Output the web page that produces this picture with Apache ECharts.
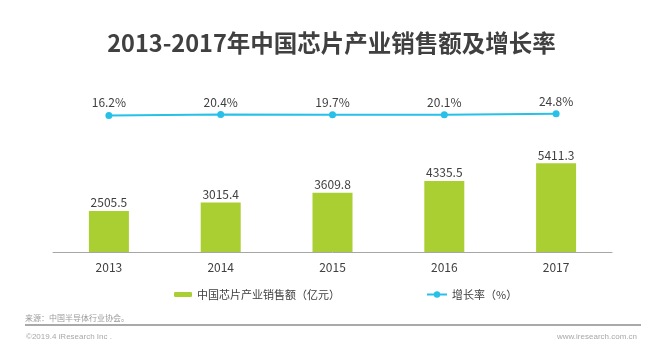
<!DOCTYPE html>
<html>
<head>
<meta charset="utf-8">
<script src="https://cdn.jsdelivr.net/npm/echarts@6/dist/echarts.min.js"></script>
<style>
html,body{margin:0;padding:0;background:#fff;}
#chart{width:663px;height:357px;}
</style>
</head>
<body>
<div id="chart"></div>
<script>
const titleText = '2013-2017年中国芯片产业销售额及增长率';
const categories = ['2013', '2014', '2015', '2016', '2017'];
const salesValues = [2505.5, 3015.4, 3609.8, 4335.5, 5411.3];
const growthValues = [16.2, 20.4, 19.7, 20.1, 24.8];
const barName = '中国芯片产业销售额（亿元）';
const lineName = '增长率（%）';
const sourceText = '来源：中国半导体行业协会。';
const copyrightText = '©2019.4 iResearch Inc .';
const siteText = 'www.iresearch.com.cn';

const cjk = "'Microsoft YaHei','Noto Sans CJK SC',sans-serif";
const chart = echarts.init(document.getElementById('chart'), null, {renderer: 'canvas'});
chart.setOption({
  backgroundColor: '#ffffff',
  animation: false,
  title: {
    text: titleText,
    left: 'center',
    top: 26,
    textStyle: {fontSize: 23.5, fontWeight: 'bold', color: '#404040', fontFamily: cjk}
  },
  legend: [
    {
      data: [barName],
      left: 169, top: 284,
      itemWidth: 18, itemHeight: 5,
      textStyle: {fontSize: 11, color: '#404040', fontFamily: cjk}
    },
    {
      data: [lineName],
      left: 421, top: 284,
      itemWidth: 20, itemHeight: 8,
      textStyle: {fontSize: 11, color: '#404040', fontFamily: cjk}
    }
  ],
  grid: {left: 53, right: 51, top: 88, bottom: 105},
  xAxis: {
    type: 'category',
    data: categories,
    axisLine: {lineStyle: {color: '#a6a6a6', width: 1}},
    axisTick: {show: false},
    axisLabel: {margin: 9, fontSize: 12, color: '#404040', fontFamily: cjk}
  },
  yAxis: [
    {type: 'value', min: 0, max: 10000, show: false},
    {type: 'value', min: -675, max: 155, show: false}
  ],
  series: [
    {
      name: barName,
      type: 'bar',
      data: salesValues,
      barWidth: 40,
      itemStyle: {color: '#AACF32'},
      label: {show: true, position: 'top', distance: 2, fontSize: 12, color: '#404040', fontFamily: cjk}
    },
    {
      name: lineName,
      type: 'line',
      yAxisIndex: 1,
      data: growthValues,
      symbol: 'circle',
      symbolSize: 7,
      itemStyle: {color: '#27C0E9'},
      lineStyle: {color: '#27C0E9', width: 2},
      label: {show: true, position: 'top', distance: 3, fontSize: 12, color: '#404040', fontFamily: cjk, formatter: '{c}%'}
    }
  ],
  graphic: [
    {type: 'text', left: 25, top: 314, style: {text: sourceText, fontSize: 8, fill: '#9a9a9a', fontFamily: cjk}},
    {type: 'line', shape: {x1: 25, y1: 325, x2: 641, y2: 325}, style: {stroke: '#8c8c8c', lineWidth: 1.5}},
    {type: 'text', left: 26, top: 333, style: {text: copyrightText, fontSize: 8, fill: '#a8a8a8', fontFamily: "'Liberation Sans',Arial,sans-serif"}},
    {type: 'text', right: 26, top: 333, style: {text: siteText, fontSize: 8, fill: '#a8a8a8', fontFamily: "'Liberation Sans',Arial,sans-serif"}}
  ]
});
</script>
</body>
</html>
